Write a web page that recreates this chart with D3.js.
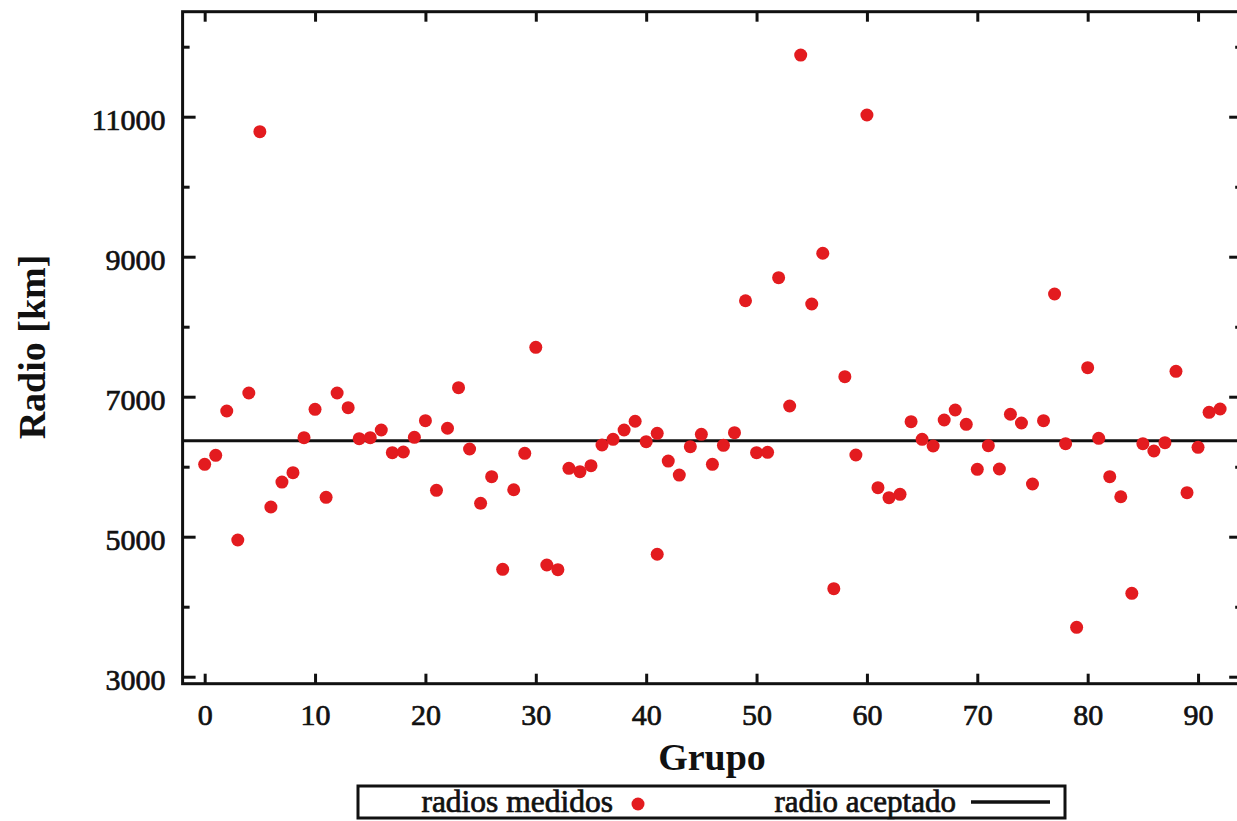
<!DOCTYPE html>
<html>
<head>
<meta charset="utf-8">
<script src="https://cdn.jsdelivr.net/npm/d3@7"></script>
<style>
  body { margin: 0; background: #fff; }
  svg { display: block; }
</style>
</head>
<body>
<div id="chart"></div>
<script>
// group number of each measurement (group 41 has two)
var grupos = [0, 1, 2, 3, 4, 5, 6, 7, 8, 9, 10, 11, 12, 13, 14, 15, 16, 17, 18, 19,
  20, 21, 22, 23, 24, 25, 26, 27, 28, 29, 30, 31, 32, 33, 34, 35, 36, 37, 38, 39,
  40, 41, 41, 42, 43, 44, 45, 46, 47, 48, 49, 50, 51, 52, 53, 54, 55, 56, 57, 58, 59,
  60, 61, 62, 63, 64, 65, 66, 67, 68, 69, 70, 71, 72, 73, 74, 75, 76, 77, 78, 79,
  80, 81, 82, 83, 84, 85, 86, 87, 88, 89, 90, 91, 92];

// measured radius in km
var radios = [6034, 6163, 6796, 4953, 7053, 10786, 5424, 5781, 5914, 6414,
  6820, 5563, 7053, 6843, 6400, 6414, 6524, 6200, 6210, 6420,
  6657, 5663, 6549, 7129, 6253, 5477, 5857, 4534, 5671, 6191,
  7706, 4596, 4529, 5977, 5929, 6014, 6310, 6391, 6524, 6649,
  6357, 6477, 4749, 6081, 5881, 6286, 6463, 6034, 6306, 6486, 8371,
  6200, 6206, 8700, 6867, 11881, 8324, 9049, 4257, 7286, 6167,
  11024, 5700, 5557, 5606, 6643, 6391, 6296, 6667, 6810, 6606,
  5963, 6300, 5967, 6749, 6624, 5753, 6657, 8467, 6329, 3706,
  7414, 6406, 5857, 5571, 4191, 6329, 6224, 6343, 7363, 5629,
  6277, 6777, 6824];

var radioAceptado = 6371;

var xTicks = [0, 10, 20, 30, 40, 50, 60, 70, 80, 90];
var yTicks = [3000, 5000, 7000, 9000, 11000];
var yMinorTicks = [4000, 6000, 8000, 10000, 12000];

var data = grupos.map(function(g, i) { return { grupo: g, radio: radios[i] }; });

var W = 1237, H = 821;
var margin = { top: 11.7, left: 182.6 },
  width = 1059.6,
  height = 672;

var font = "'Liberation Serif', 'DejaVu Serif', serif";

var svg = d3.select("#chart")
  .append("svg")
    .attr("width", W)
    .attr("height", H);

var g = svg.append("g")
  .attr("transform", "translate(" + margin.left + "," + margin.top + ")");

var x = d3.scaleLinear().domain([-2, 94]).range([0, width]);
var y = d3.scaleLinear().domain([2900, 12500]).range([height, 0]);

// accepted radius line
g.append("line")
  .attr("x1", 0)
  .attr("x2", width)
  .attr("y1", y(radioAceptado))
  .attr("y2", y(radioAceptado))
  .attr("stroke", "#111")
  .attr("stroke-width", 3);

// measured points
g.selectAll("circle.pt")
  .data(data)
  .enter().append("circle")
    .attr("class", "pt")
    .attr("cx", function(d) { return x(d.grupo); })
    .attr("cy", function(d) { return y(d.radio); })
    .attr("r", 6.5)
    .attr("fill", "#e31b1f");

// medium-weight serif text (regular + thin outline)
function medium(sel, size) {
  sel.style("font-family", font)
    .style("font-size", size)
    .attr("fill", "#111")
    .attr("stroke", "#111")
    .attr("stroke-width", 0.7);
}

// axes with inward ticks
function styleAxis(sel) {
  sel.select(".domain").remove();
  sel.selectAll(".tick line").attr("stroke", "#111").attr("stroke-width", 3);
  sel.selectAll("text").call(medium, "30px");
}

var fmt = d3.format("d");

g.append("g")
  .attr("transform", "translate(0," + height + ")")
  .call(d3.axisBottom(x).tickValues(xTicks).tickSizeInner(-10).tickSizeOuter(0).tickPadding(20).tickFormat(fmt))
  .call(styleAxis);

g.append("g")
  .call(d3.axisTop(x).tickValues(xTicks).tickSizeInner(-10).tickSizeOuter(0).tickFormat(""))
  .call(styleAxis);

g.append("g")
  .call(d3.axisLeft(y).tickValues(yTicks).tickSizeInner(-13).tickSizeOuter(0).tickPadding(17).tickFormat(fmt))
  .call(styleAxis)
  .selectAll("text").attr("dy", "0.42em");

g.append("g")
  .call(d3.axisLeft(y).tickValues(yMinorTicks).tickSizeInner(-7).tickSizeOuter(0).tickFormat(""))
  .call(styleAxis);

g.append("g")
  .attr("transform", "translate(" + width + ",0)")
  .call(d3.axisRight(y).tickValues(yTicks).tickSizeInner(-13).tickSizeOuter(0).tickFormat(""))
  .call(styleAxis);

g.append("g")
  .attr("transform", "translate(" + width + ",0)")
  .call(d3.axisRight(y).tickValues(yMinorTicks).tickSizeInner(-7).tickSizeOuter(0).tickFormat(""))
  .call(styleAxis);

// frame
g.append("rect")
  .attr("width", width)
  .attr("height", height)
  .attr("fill", "none")
  .attr("stroke", "#111")
  .attr("stroke-width", 3);

// axis titles
svg.append("text")
  .attr("x", 712)
  .attr("y", 770)
  .attr("text-anchor", "middle")
  .style("font-family", font)
  .style("font-size", "38px")
  .style("font-weight", "bold")
  .attr("fill", "#111")
  .text("Grupo");

svg.append("text")
  .attr("transform", "translate(45,347) rotate(-90)")
  .attr("text-anchor", "middle")
  .style("font-family", font)
  .style("font-size", "38px")
  .style("font-weight", "bold")
  .attr("fill", "#111")
  .text("Radio [km]");

// legend
var legend = svg.append("g");
legend.append("rect")
  .attr("x", 358)
  .attr("y", 786)
  .attr("width", 707)
  .attr("height", 32)
  .attr("fill", "#fff")
  .attr("stroke", "#111")
  .attr("stroke-width", 3);

legend.append("text")
  .attr("x", 613)
  .attr("y", 812)
  .attr("text-anchor", "end")
  .call(medium, "31.5px")
  .text("radios medidos");

legend.append("circle")
  .attr("cx", 638)
  .attr("cy", 804)
  .attr("r", 6.5)
  .attr("fill", "#e31b1f");

legend.append("text")
  .attr("x", 956)
  .attr("y", 812)
  .attr("text-anchor", "end")
  .call(medium, "31px")
  .text("radio aceptado");

legend.append("line")
  .attr("x1", 971)
  .attr("x2", 1050)
  .attr("y1", 802)
  .attr("y2", 802)
  .attr("stroke", "#111")
  .attr("stroke-width", 3.5);
</script>
</body>
</html>
